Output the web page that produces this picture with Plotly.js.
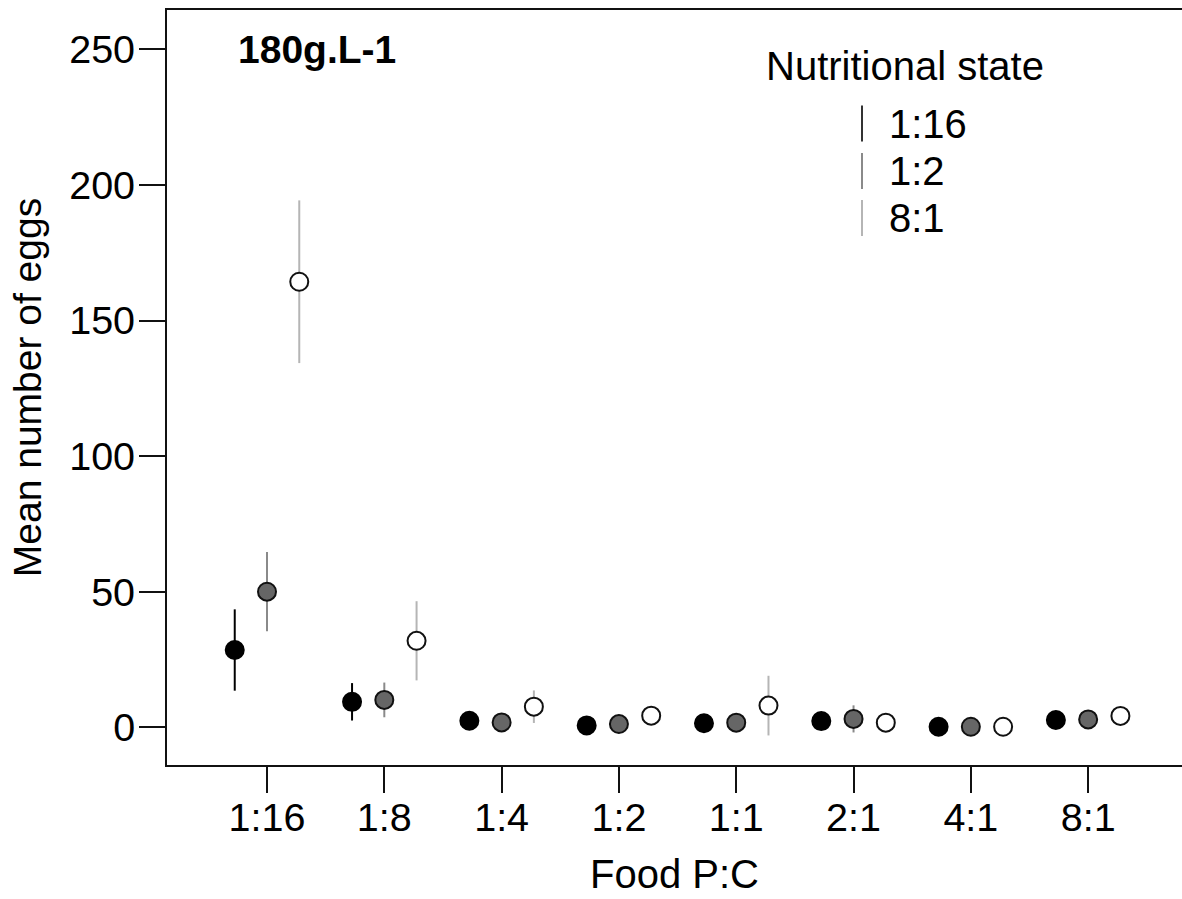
<!DOCTYPE html>
<html>
<head>
<meta charset="utf-8">
<script src="https://cdn.plot.ly/plotly-3.0.1.min.js"></script>
<style>html,body{margin:0;padding:0;background:#fff;}#chart{width:1182px;height:899px;}</style>
</head>
<body>
<div id="chart"></div>
<script>
// Food P:C categories (x axis)
const categories = ["1:16", "1:8", "1:4", "1:2", "1:1", "2:1", "4:1", "8:1"];
// Nutritional state series
const seriesNames = ["1:16", "1:2", "8:1"];
const meansState116 = [28.5, 9.4, 2.4, 0.7, 1.5, 2.3, 0.2, 2.7];
const errState116   = [15.0, 6.9, 1.5, 1.0, 1.0, 1.5, 0.5, 1.5];
const meansState12  = [50.0, 10.1, 1.8, 1.2, 1.7, 3.1, 0.2, 2.9];
const errState12    = [14.6, 6.4, 1.5, 1.0, 1.0, 5.0, 0.5, 2.0];
const meansState81  = [164.3, 31.9, 7.6, 4.3, 8.0, 1.7, 0.2, 4.2];
const errState81    = [30.0, 14.6, 6.0, 2.0, 11.0, 1.5, 0.5, 2.5];
const yTicks = [0, 50, 100, 150, 200, 250];

const FONT = "Liberation Sans, Arial, sans-serif";
const styles = [
  {fill: "#000000", edge: "#000000", err: "#000000", offset: -0.275},
  {fill: "#666666", edge: "#111111", err: "#8a8a8a", offset: 0},
  {fill: "#ffffff", edge: "#111111", err: "#b5b5b5", offset: 0.275}
];
const means = [meansState116, meansState12, meansState81];
const errs = [errState116, errState12, errState81];

const traces = seriesNames.map((name, s) => ({
  type: "scatter",
  mode: "markers",
  name: name,
  showlegend: false,
  x: categories.map((c, i) => i + styles[s].offset),
  y: means[s],
  error_y: {type: "data", array: errs[s], visible: true, color: styles[s].err, thickness: 2, width: 0},
  marker: {size: 18, color: styles[s].fill, line: {color: styles[s].edge, width: 2}},
  hoverinfo: "skip"
}));
// invisible traces carrying the tick-mark axes
traces.push({type: "scatter", mode: "markers", x: [null], y: [null], xaxis: "x2", yaxis: "y", showlegend: false, hoverinfo: "skip"});
traces.push({type: "scatter", mode: "markers", x: [null], y: [null], xaxis: "x", yaxis: "y2", showlegend: false, hoverinfo: "skip"});

// custom legend (vertical line glyphs)
const L = 167, R = 1182, T = 10, B = 765;
const px = v => (v - L) / (R - L);
const py = v => (B - v) / (B - T);
const legendRows = [123.5, 171, 218];
const shapes = [];
const annotations = [
  {text: "<b>180g.L-1</b>", xref: "paper", yref: "paper", x: px(236), y: py(49), xanchor: "left", yanchor: "middle", showarrow: false, font: {family: FONT, size: 39, color: "#000"}},
  {text: "Nutritional state", xref: "paper", yref: "paper", x: px(905), y: py(66), xanchor: "center", yanchor: "middle", showarrow: false, font: {family: FONT, size: 40, color: "#000"}}
];
seriesNames.forEach((name, s) => {
  const yc = legendRows[s];
  shapes.push({type: "line", xref: "paper", yref: "paper", x0: px(862), x1: px(862), y0: py(yc - 18), y1: py(yc + 18), line: {color: s === 0 ? "#333" : styles[s].err, width: 2}});
  annotations.push({text: name, xref: "paper", yref: "paper", x: px(887), y: py(yc), xanchor: "left", yanchor: "middle", showarrow: false, font: {family: FONT, size: 40, color: "#000"}});
});

const xRange = [-0.8525, 7.80];
const yRange = [-13.9, 264.5];
const layout = {
  width: 1182, height: 899,
  margin: {l: L, r: 1182 - R, t: T, b: 899 - B, pad: 0},
  paper_bgcolor: "#fff", plot_bgcolor: "#fff",
  showlegend: false,
  font: {family: FONT, size: 39, color: "#000"},
  xaxis: {
    range: xRange,
    tickvals: categories.map((c, i) => i),
    ticktext: categories,
    ticks: "outside", ticklen: 17, tickwidth: 2, tickcolor: "rgba(0,0,0,0)",
    showline: true, linecolor: "#111", linewidth: 2, mirror: true,
    showgrid: false, zeroline: false,
    tickfont: {family: FONT, size: 39.5, color: "#000"},
    title: {text: "Food P:C", font: {family: FONT, size: 40, color: "#000"}, standoff: 22}
  },
  xaxis2: {
    range: xRange,
    overlaying: "x", anchor: "y", side: "bottom",
    tickvals: categories.map((c, i) => i),
    showticklabels: false,
    ticks: "outside", ticklen: 27, tickwidth: 2, tickcolor: "#111",
    showline: false, showgrid: false, zeroline: false
  },
  yaxis: {
    range: yRange,
    tickvals: yTicks,
    ticks: "outside", ticklen: 22, tickwidth: 2, tickcolor: "rgba(0,0,0,0)",
    showline: true, linecolor: "#111", linewidth: 2,
    showgrid: false, zeroline: false,
    tickfont: {family: FONT, size: 39.5, color: "#000"},
    title: {text: "Mean number of eggs", font: {family: FONT, size: 39, color: "#000"}, standoff: 16}
  },
  yaxis2: {
    range: yRange,
    overlaying: "y", anchor: "x", side: "left",
    tickvals: yTicks,
    showticklabels: false,
    ticks: "outside", ticklen: 27, tickwidth: 2, tickcolor: "#111",
    showline: false, showgrid: false, zeroline: false
  },
  shapes: shapes,
  annotations: annotations
};

Plotly.newPlot("chart", traces, layout, {displayModeBar: false, staticPlot: true});
</script>
</body>
</html>
